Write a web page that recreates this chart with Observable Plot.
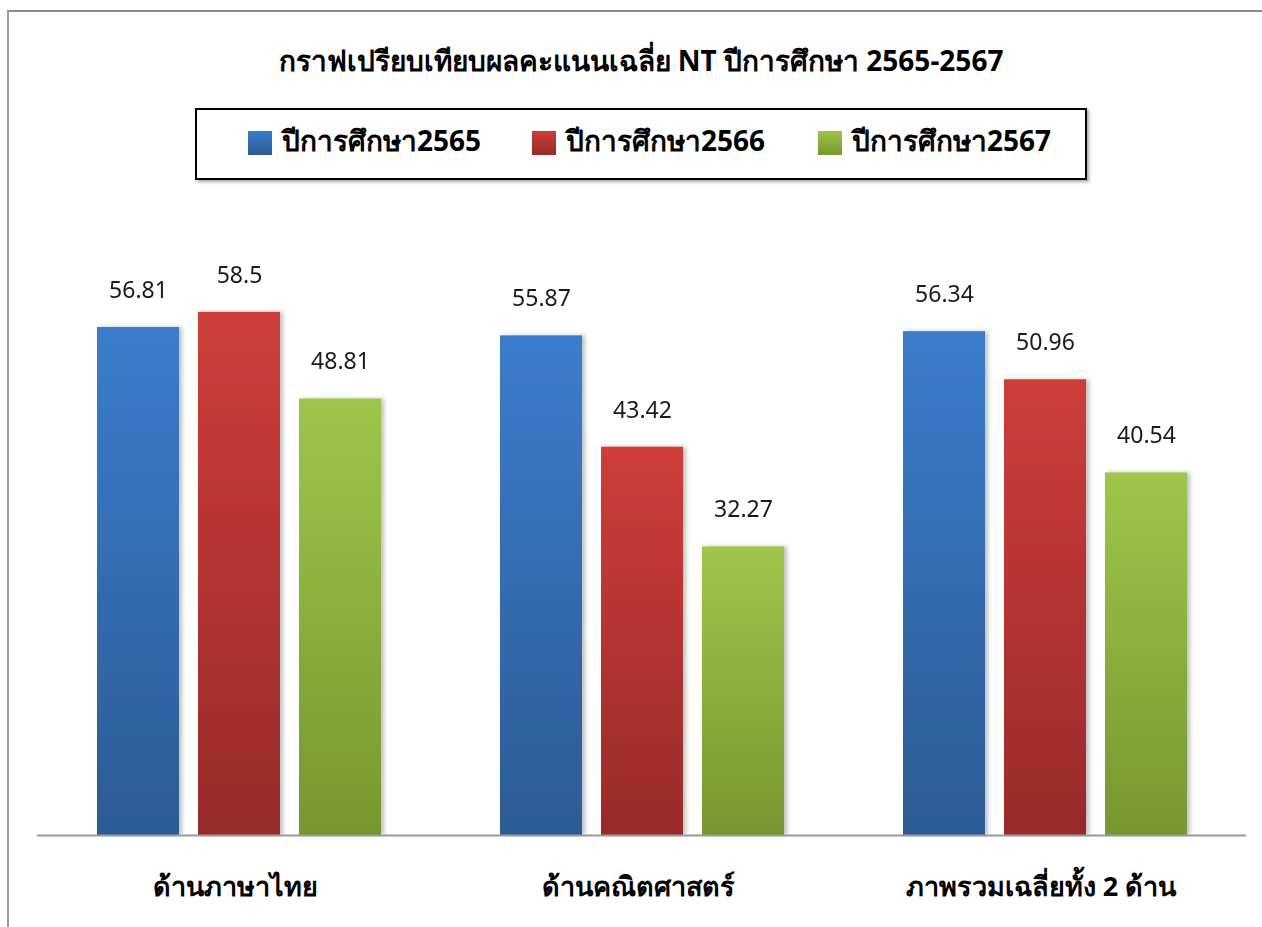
<!DOCTYPE html>
<html><head><meta charset="utf-8">
<script src="https://cdn.jsdelivr.net/npm/d3@7"></script>
<script src="https://cdn.jsdelivr.net/npm/@observablehq/plot@0.6"></script>
<style>
body{margin:0;background:#fff;font-family:Tahoma,"Noto Sans",sans-serif;}
#wrap{position:relative;width:1262px;height:927px;overflow:hidden;}
#frameTop{position:absolute;left:7px;top:10px;width:1255px;height:2px;background:#8a8a8a;}
#frameLeft{position:absolute;left:7px;top:10px;width:2px;height:917px;background:#9a9a9a;}
#title{position:absolute;left:0;width:1282px;top:39px;text-align:center;font-weight:bold;font-size:28px;color:#000;}
#legend{position:absolute;left:195px;top:108px;width:888px;height:68px;border:2px solid #000;box-shadow:2px 2px 3px rgba(0,0,0,0.35);background:#fff;}
.item{position:absolute;top:12px;font-weight:bold;font-size:28px;line-height:36px;white-space:nowrap;}
.sw{display:inline-block;width:24px;height:24px;vertical-align:-4px;margin-right:10px;}
#chart{position:absolute;left:0;top:0;}
</style></head>
<body><div id="wrap">
<div id="chart"></div>
<div id="frameTop"></div><div id="frameLeft"></div>
<div id="title"></div>
<div id="legend"></div>
</div>
<script>
const title = "กราฟเปรียบเทียบผลคะแนนเฉลี่ย NT ปีการศึกษา 2565-2567";
const categories = ["ด้านภาษาไทย", "ด้านคณิตศาสตร์", "ภาพรวมเฉลี่ยทั้ง 2 ด้าน"];
const series = ["ปีการศึกษา2565", "ปีการศึกษา2566", "ปีการศึกษา2567"];
const values2565 = [56.81, 55.87, 56.34];
const values2566 = [58.5, 43.42, 50.96];
const values2567 = [48.81, 32.27, 40.54];
const gradTop = ["#3b7dcc", "#cf3d39", "#9dc649"];
const gradBottom = ["#2c5b96", "#982b2a", "#76972f"];

const seriesValues = [values2565, values2566, values2567];
const data = [];
categories.forEach((c, i) => series.forEach((s, j) => data.push({cat: c, series: s, value: seriesValues[j][i]})));

document.getElementById("title").textContent = title;
const legend = document.getElementById("legend");
const legendX = [51, 335, 621];
series.forEach((s, j) => {
  const d = document.createElement("div");
  d.className = "item";
  d.style.left = legendX[j] + "px";
  d.innerHTML = `<span class="sw" style="background:linear-gradient(${gradTop[j]},${gradBottom[j]})"></span>`;
  d.appendChild(document.createTextNode(s));
  legend.appendChild(d);
});

const font = 'Tahoma, "Noto Sans", sans-serif';
const chart = Plot.plot({
  width: 1262,
  height: 927,
  marginLeft: 36,
  marginRight: 15,
  marginTop: 209,
  marginBottom: 92,
  style: {fontFamily: font, background: "transparent", overflow: "visible"},
  fx: {domain: categories, padding: 0, axis: null},
  x: {domain: series, paddingInner: 0.19, paddingOuter: 0.59, axis: null},
  y: {domain: [0, 70], axis: null},
  color: {domain: series, range: series.map((s, j) => `url(#grad${j})`)},
  marks: [
    Plot.barY(data, {fx: "cat", x: "series", y: "value", fill: "series"}),
    Plot.ruleY([0], {stroke: "#9a9a9a", strokeWidth: 2}),
    Plot.text(data, {fx: "cat", x: "series", y: "value", text: d => String(d.value), dy: -37, fontSize: 23, fill: "#1a1a1a", lineAnchor: "middle"}),
    Plot.text(categories, {fx: d => d, text: d => d, frameAnchor: "bottom", dx: -4, dy: 52, lineAnchor: "middle", fontSize: 27, fontWeight: "bold", fill: "#000"})
  ]
});
const svg = d3.select(chart);
const defs = svg.insert("defs", ":first-child");
series.forEach((s, j) => {
  const g = defs.append("linearGradient").attr("id", `grad${j}`).attr("x1", 0).attr("y1", 0).attr("x2", 0).attr("y2", 1);
  g.append("stop").attr("offset", "0%").attr("stop-color", gradTop[j]);
  g.append("stop").attr("offset", "100%").attr("stop-color", gradBottom[j]);
});
const f = defs.append("filter").attr("id", "shadow").attr("x", "-10%").attr("y", "-10%").attr("width", "130%").attr("height", "120%");
f.append("feDropShadow").attr("dx", 3).attr("dy", 0).attr("stdDeviation", 2).attr("flood-color", "#000").attr("flood-opacity", 0.25);
svg.selectAll('g[aria-label="bar"]').attr("filter", "url(#shadow)");
document.getElementById("chart").appendChild(chart);
</script>
</body></html>
